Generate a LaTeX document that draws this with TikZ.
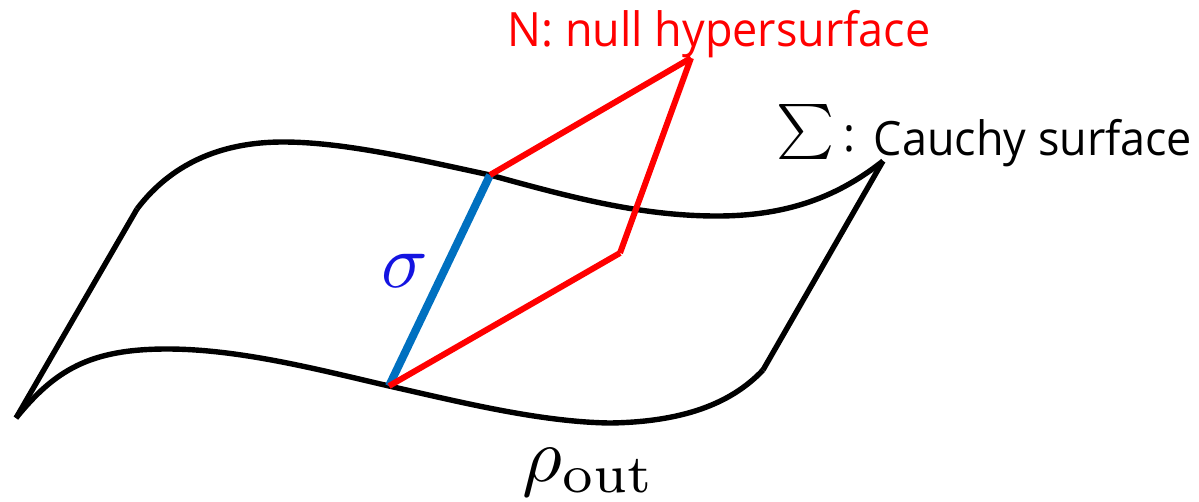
\documentclass[tikz,border=0pt]{standalone}
\usepackage[no-math]{fontspec}
\setmainfont[FakeStretch=0.95]{Open Sans}
\definecolor{bluel}{RGB}{0,112,192}
\definecolor{bluet}{RGB}{20,20,225}
\begin{document}
\begin{tikzpicture}[x=1pt,y=-1pt,
  surf/.style={draw=black,line width=5.4pt,line cap=butt,line join=round},
  nullh/.style={draw=red,line width=6pt,line cap=butt},
  lab/.style={inner sep=0pt,anchor=center},
  words/.style={inner sep=0pt,anchor=base,font=\fontsize{47.3}{47.3}\selectfont}]
\useasboundingbox (0,0) rectangle (1199,501);
\coordinate (a) at (16,418);
\coordinate (b) at (137,209);
\coordinate (c) at (883,161);
\coordinate (d) at (763,370);
\coordinate (e) at (490,175);
\coordinate (f) at (389,386);
\coordinate (g) at (691,58);
\coordinate (h) at (620,253);
\draw[surf] (b) .. controls (165,172) and (210,142) .. (283,142) .. controls (345,142) and (420,160) .. (e) .. controls (570,197) and (640,216) .. (717,216) .. controls (790,216) and (840,195) .. (c);
\draw[surf] (c) -- (d);
\draw[surf] (a) .. controls (55,370) and (90,349) .. (167,349) .. controls (240,349) and (320,370) .. (f) .. controls (460,402) and (540,422) .. (610,423) .. controls (680,422) and (730,405) .. (d);
\draw[surf] (a) -- (b);
\draw[draw=bluel,line width=8pt] (e) -- (f);
\draw[nullh] (e) -- (g);
\draw[nullh] (g) -- (h);
\draw[nullh] (h) -- (f);
\node[words,text=red] (nl) at (719,46) {N: null hypersurface};
\node[words] (cl) at (1033,155) {Cauchy surface};
\node[lab] (sg) at (806,132) {\scalebox{5.5}{$\textstyle\sum$}};
\node[words] (col) at (849,151) {:};
\node[lab,text=bluet] (si) at (405,271) {\scalebox{7.7}{$\sigma$}};
\node[lab] (rho) at (589,472) {\scalebox{7.7}{$\rho_{\mathrm{out}}$}};
\end{tikzpicture}
\end{document}
